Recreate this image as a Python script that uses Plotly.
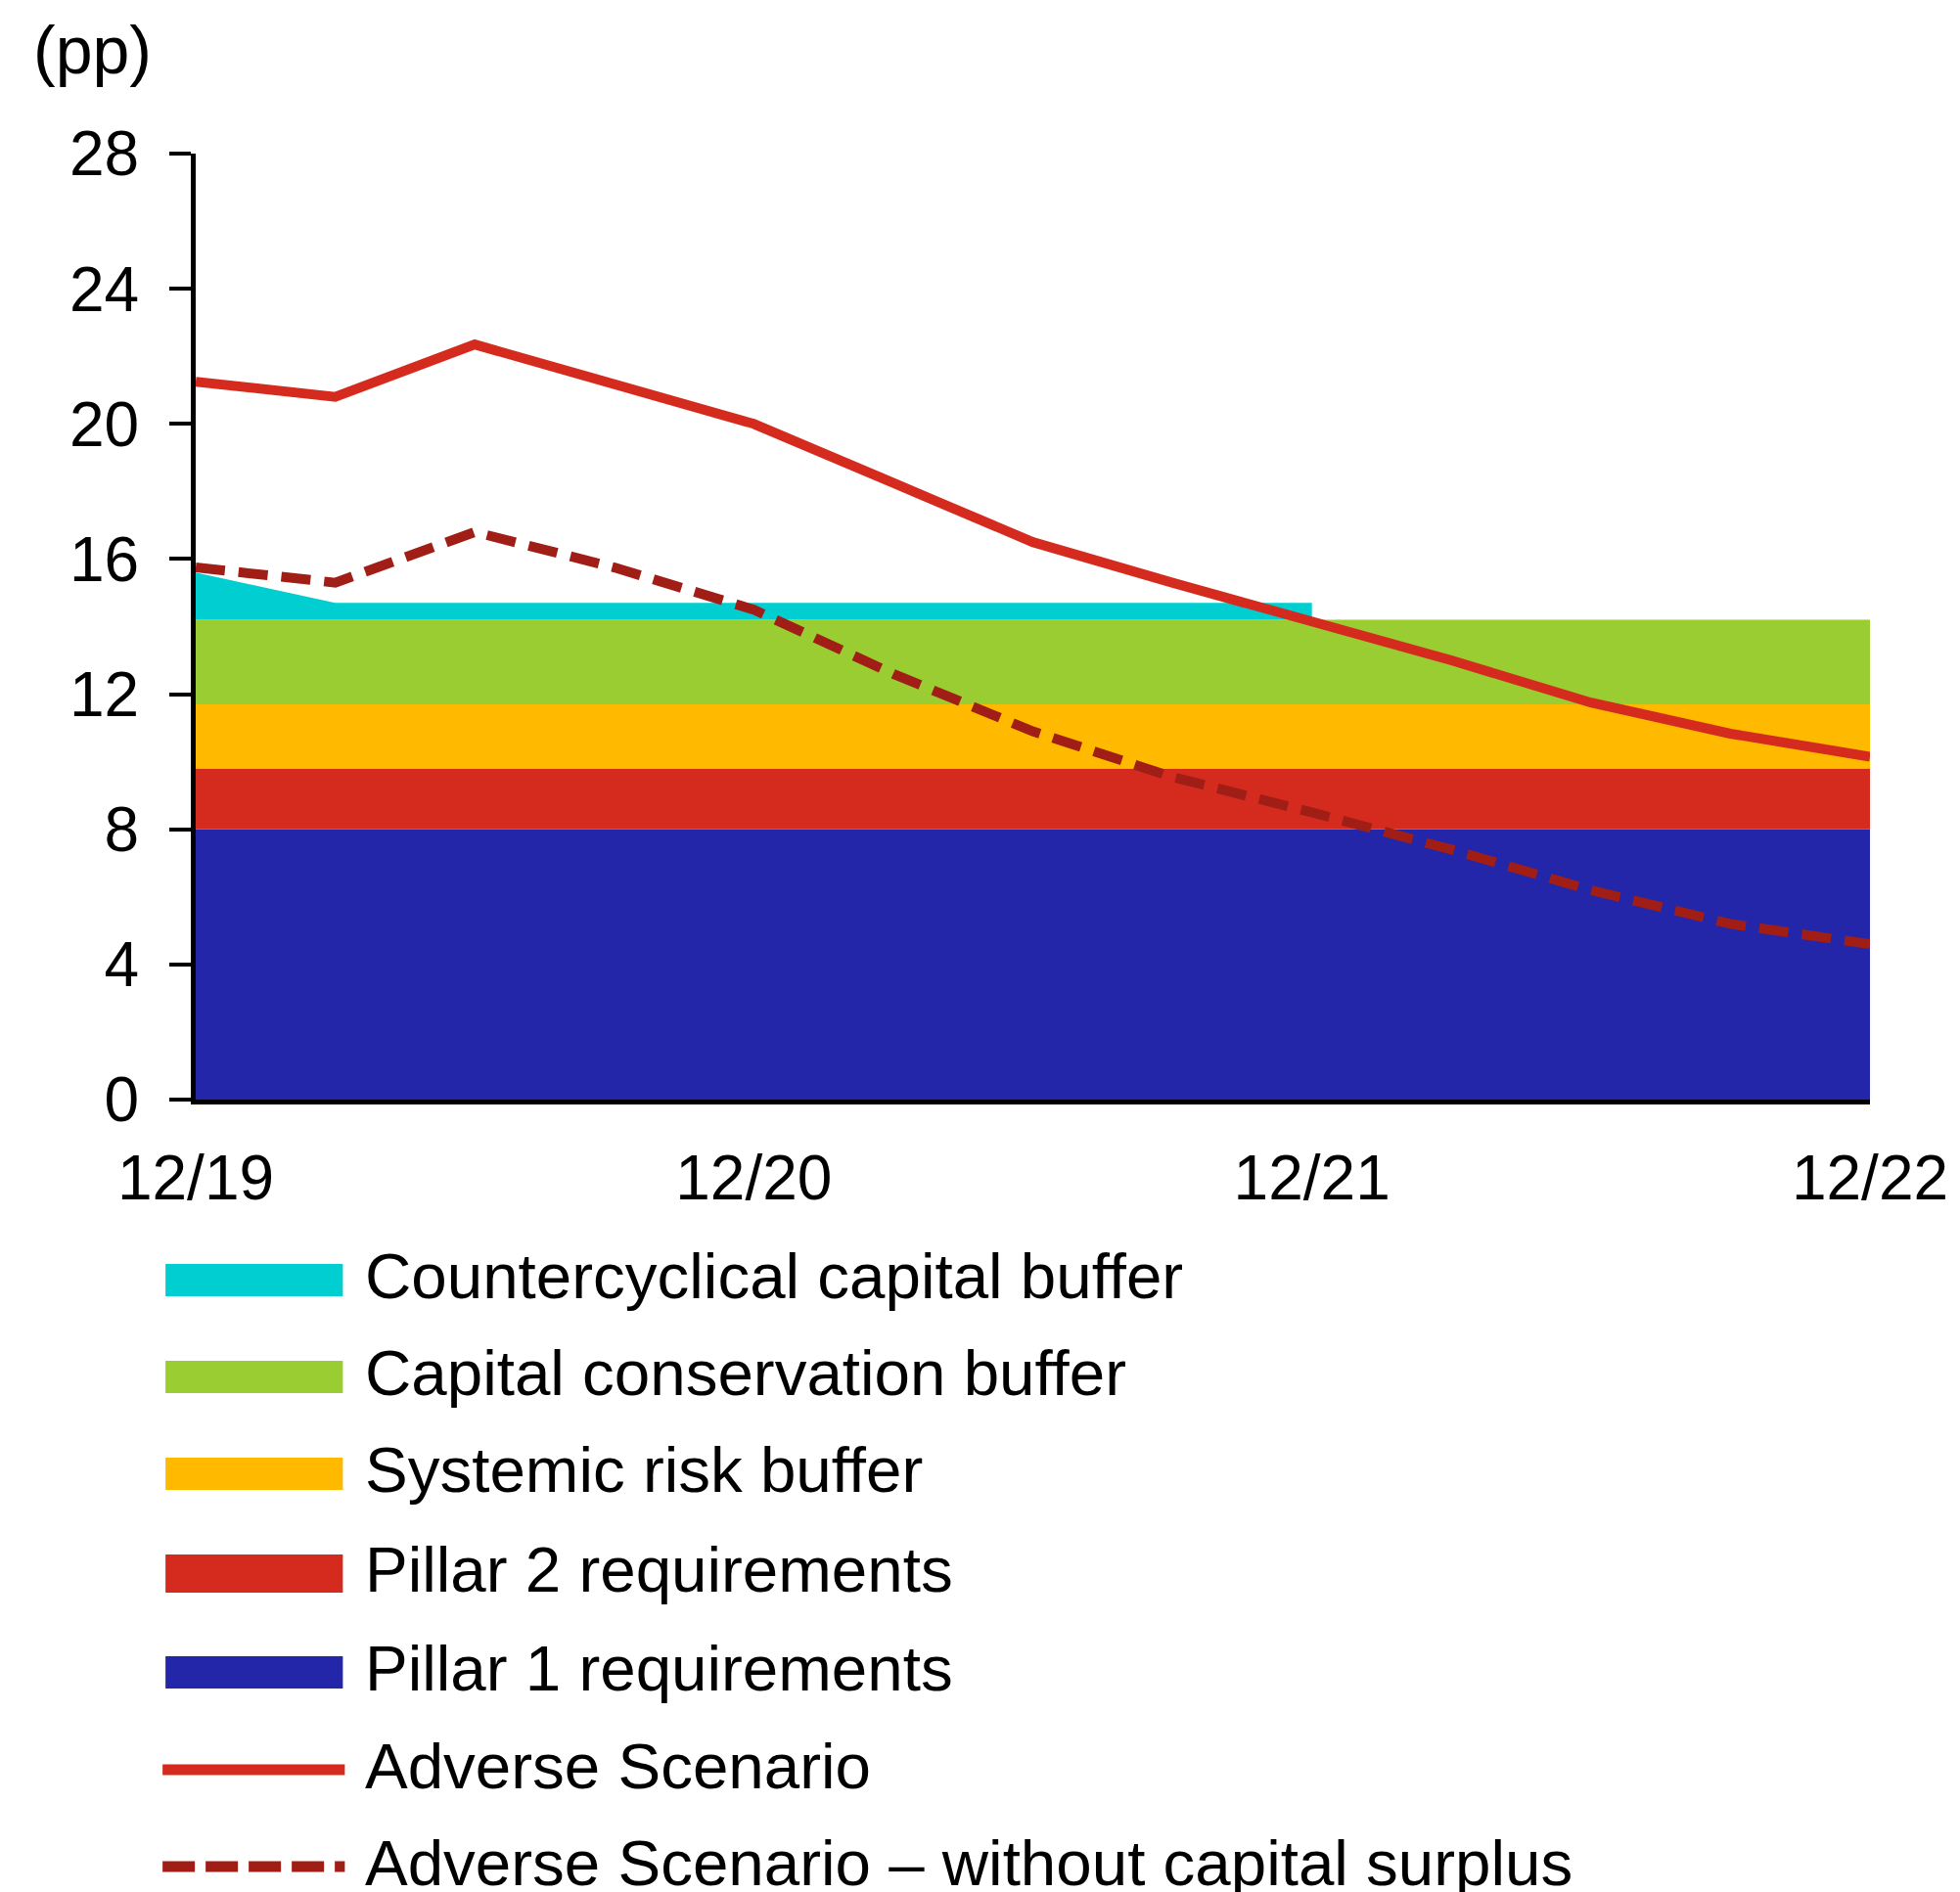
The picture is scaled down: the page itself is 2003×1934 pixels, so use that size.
import plotly.graph_objects as go

# Quarter-end dates, 12/2019 to 12/2022
quarters = ["12/19", "3/20", "6/20", "9/20", "12/20", "3/21", "6/21",
            "9/21", "12/21", "3/22", "6/22", "9/22", "12/22"]
tick_quarters = ["12/19", "12/20", "12/21", "12/22"]

# Capital requirement components (pp)
pillar1 = [8.0, 8.0, 8.0, 8.0, 8.0, 8.0, 8.0, 8.0, 8.0, 8.0, 8.0, 8.0, 8.0]
pillar2 = [1.8, 1.8, 1.8, 1.8, 1.8, 1.8, 1.8, 1.8, 1.8, 1.8, 1.8, 1.8, 1.8]
systemic_risk = [1.9, 1.9, 1.9, 1.9, 1.9, 1.9, 1.9, 1.9, 1.9, 1.9, 1.9, 1.9, 1.9]
conservation = [2.5, 2.5, 2.5, 2.5, 2.5, 2.5, 2.5, 2.5, 2.5, 2.5, 2.5, 2.5, 2.5]
# countercyclical buffer is reported up to 12/21
countercyclical = [1.4, 0.5, 0.5, 0.5, 0.5, 0.5, 0.5, 0.5, 0.5]

# Capital ratio paths (pp)
adverse = [21.25, 20.8, 22.35, 21.2, 20.0, 18.25, 16.5, 15.3, 14.15,
           13.0, 11.75, 10.83, 10.15]
adverse_no_surplus = [15.75, 15.3, 16.8, 15.75, 14.5, 12.6, 10.9, 9.55,
                      8.5, 7.4, 6.2, 5.2, 4.6]

C_CCYB = "#00CED1"
C_CCB = "#9ACD32"
C_SRB = "#FFBA00"
C_P2 = "#D52B1F"
C_P1 = "#2326A8"
C_ADV = "#D52B1F"
C_ADV_NS = "#A01E16"

FONT = "Liberation Sans, Arial, sans-serif"
W, H = 2003, 1934
L, R, T, B = 200, 85, 157, 810
PW, PH = W - L - R, H - T - B


def cumulate(*series):
    tops, run = [], [0.0] * len(series[0])
    for s in series:
        run = [a + b for a, b in zip(run, s)]
        tops.append(run)
    return tops


top_p1, top_p2, top_srb, top_ccb = cumulate(pillar1, pillar2, systemic_risk, conservation)
n_ccyb = len(countercyclical)
top_ccyb = [a + b for a, b in zip(top_ccb[:n_ccyb], countercyclical)]

fig = go.Figure()

bands = [(top_p1, C_P1, "tozeroy"), (top_p2, C_P2, "tonexty"),
         (top_srb, C_SRB, "tonexty"), (top_ccb, C_CCB, "tonexty")]
for ys, col, fill in bands:
    fig.add_trace(go.Scatter(x=quarters, y=ys, mode="lines", line=dict(width=0, color=col),
                             fill=fill, fillcolor=col, hoverinfo="skip", showlegend=False))

# countercyclical buffer drawn as a closed band over the conservation buffer
fig.add_trace(go.Scatter(
    x=quarters[:n_ccyb] + quarters[:n_ccyb][::-1],
    y=top_ccyb + top_ccb[:n_ccyb][::-1],
    mode="lines", line=dict(width=0, color=C_CCYB), fill="toself", fillcolor=C_CCYB,
    hoverinfo="skip", showlegend=False))

fig.add_trace(go.Scatter(x=quarters, y=adverse, mode="lines",
                         line=dict(color=C_ADV, width=10), showlegend=False))
fig.add_trace(go.Scatter(x=quarters, y=adverse_no_surplus, mode="lines",
                         line=dict(color=C_ADV_NS, width=10, dash="30px,14px"),
                         showlegend=False))


def px_x(px):
    return (px - L) / PW


def px_y(py):
    return (H - B - py) / PH


shapes, annotations = [], []

legend_items = [
    ("rect", C_CCYB, 1292, 1325, "Countercyclical capital buffer"),
    ("rect", C_CCB, 1391, 1424, "Capital conservation buffer"),
    ("rect", C_SRB, 1490, 1523, "Systemic risk buffer"),
    ("rect", C_P2, 1589, 1628, "Pillar 2 requirements"),
    ("rect", C_P1, 1693, 1726, "Pillar 1 requirements"),
    ("line", C_ADV, 1809, None, "Adverse Scenario"),
    ("dash", C_ADV_NS, 1908, None, "Adverse Scenario \u2013 without capital surplus"),
]
for kind, col, y0, y1, label in legend_items:
    if kind == "rect":
        shapes.append(dict(type="rect", xref="paper", yref="paper",
                           x0=px_x(169), x1=px_x(351), y0=px_y(y1), y1=px_y(y0),
                           fillcolor=col, line=dict(width=0)))
        yc = (y0 + y1) / 2
    else:
        shapes.append(dict(type="line", xref="paper", yref="paper",
                           x0=px_x(166), x1=px_x(353), y0=px_y(y0), y1=px_y(y0),
                           line=dict(color=col, width=11,
                                     dash="solid" if kind == "line" else "33px,11px")))
        yc = y0
    annotations.append(dict(text=label, xref="paper", yref="paper",
                            x=px_x(372), y=px_y(yc - 4), xanchor="left", yanchor="middle",
                            showarrow=False, font=dict(family=FONT, size=65.5, color="black")))

annotations.append(dict(text="(pp)", xref="paper", yref="paper",
                        x=px_x(31), y=px_y(51), xanchor="left", yanchor="middle",
                        showarrow=False, font=dict(family=FONT, size=68, color="black")))

fig.update_layout(
    width=W, height=H,
    margin=dict(l=L, r=R, t=T, b=B, pad=0),
    paper_bgcolor="white", plot_bgcolor="white",
    font=dict(family=FONT, size=64, color="black"),
    shapes=shapes, annotations=annotations,
    showlegend=False,
)
fig.update_xaxes(type="category", range=[0, len(quarters) - 1],
                 tickvals=tick_quarters, ticks="", showgrid=False, zeroline=False,
                 showline=True, linecolor="black", linewidth=5,
                 tickfont=dict(family=FONT, size=64, color="black"),
                 ticklabelstandoff=20)
fig.update_yaxes(range=[0, 28], dtick=4, tick0=0, ticks="outside", ticklen=22,
                 tickwidth=4, tickcolor="black", showgrid=False, zeroline=False,
                 showline=True, linecolor="black", linewidth=5,
                 tickfont=dict(family=FONT, size=64, color="black"),
                 ticklabelstandoff=18)

fig.write_html("out.html")
